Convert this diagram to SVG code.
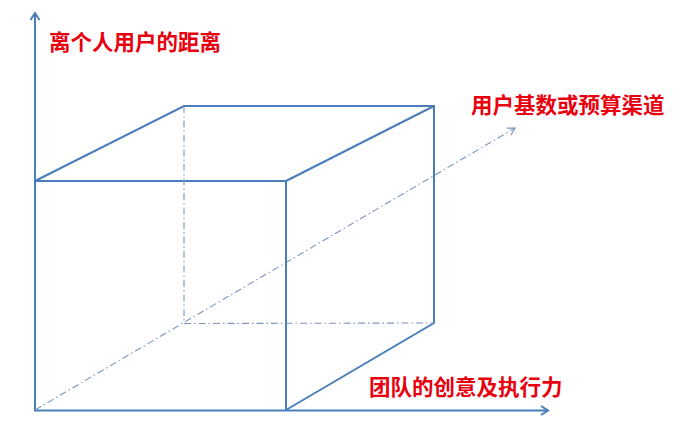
<svg xmlns="http://www.w3.org/2000/svg" width="693" height="439" viewBox="0 0 693 439">
<defs>
<style>
.solid{fill:none;stroke:#4A7EBB;stroke-width:2;stroke-linejoin:miter}
.dash{fill:none;stroke:#7A96BC;stroke-width:1.1;stroke-dasharray:7 3 1.5 3}
.lbl{font-family:"Noto Sans CJK SC","Noto Sans",sans-serif;font-weight:bold;font-size:21.5px;fill:#E8000F}
</style>
<marker id="arr" markerWidth="12" markerHeight="12" refX="9" refY="6" orient="auto" markerUnits="userSpaceOnUse">
<path d="M2,1.5 L9,6 L2,10.5" fill="none" stroke="#4A7EBB" stroke-width="2"/>
</marker>
<marker id="arrd" markerWidth="12" markerHeight="12" refX="9" refY="6" orient="auto" markerUnits="userSpaceOnUse">
<path d="M2,2 L9,6 L2,10" fill="none" stroke="#7A96BC" stroke-width="1.2"/>
</marker>
</defs>
<rect width="693" height="439" fill="#FFFFFF"/>
<g id="connectors">
<line class="solid" x1="35" y1="411" x2="35" y2="13" marker-end="url(#arr)"/>
<line class="solid" x1="34" y1="410.5" x2="548" y2="410.5" marker-end="url(#arr)"/>
<line class="dash" x1="35" y1="410" x2="515" y2="128" marker-end="url(#arrd)"/>
</g>
<g id="cube">
<polyline class="solid" points="35,181 286,181 286,410"/>
<polyline class="solid" points="35,181 184,106 434,106 434,323 286,410"/>
<line class="solid" x1="286" y1="181" x2="434" y2="106"/>
<polyline class="dash" points="184,106 184,323.5 434,323"/>
</g>
<g id="label-y"><text class="lbl" x="49" y="50">离个人用户的距离</text></g>
<g id="label-z"><text class="lbl" x="471" y="113">用户基数或预算渠道</text></g>
<g id="label-x"><text class="lbl" x="369" y="395">团队的创意及执行力</text></g>
</svg>
